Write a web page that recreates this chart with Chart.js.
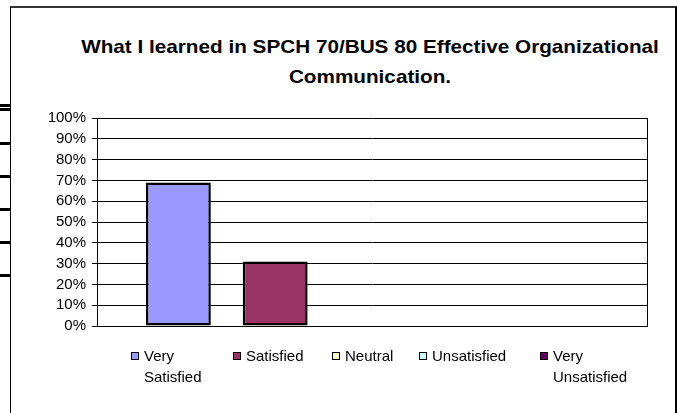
<!DOCTYPE html>
<html>
<head>
<meta charset="utf-8">
<script src="https://cdn.jsdelivr.net/npm/chart.js@4.4.1/dist/chart.umd.min.js"></script>
<style>
  html, body { margin: 0; padding: 0; background: #fff; }
  #wrap { position: relative; width: 677px; height: 413px; overflow: hidden; font-family: "Liberation Sans", Arial, sans-serif; color: #000; }
  #frame { position: absolute; left: 10px; top: 6px; width: 667px; height: 440px; box-sizing: border-box;
           border-left: 1px solid #000; border-top: 2px solid #333; border-right: 2px solid #000; }
  .stub { position: absolute; left: 0; width: 10px; height: 3px; background: #000; }
  #title { position: absolute; left: 70px; width: 600px; top: 32px; text-align: center;
           font-weight: bold; font-size: 19px; line-height: 30px; transform: scaleX(1.09); }
  #chart { position: absolute; left: 0; top: 0; }
  .item { position: absolute; top: 345px; display: flex; align-items: flex-start; font-size: 15px; line-height: 21px; }
  .box { width: 6px; height: 6px; border: 1px solid #000; margin-top: 7px; margin-right: 5px; flex: none; }
</style>
</head>
<body>
<div id="wrap">
  <div id="frame"></div>
  <div class="stub" style="top:104px"></div>
  <div class="stub" style="top:108px"></div>
  <div class="stub" style="top:142px"></div>
  <div class="stub" style="top:175px"></div>
  <div class="stub" style="top:208px"></div>
  <div class="stub" style="top:241px"></div>
  <div class="stub" style="top:274px"></div>
  <div id="title">What I learned in SPCH 70/BUS 80 Effective Organizational<br>Communication.</div>
  <canvas id="chart" width="677" height="413"></canvas>
  <div id="legend"></div>
</div>
<script>
// ---- Data ----
const categories = ["Very Satisfied", "Satisfied", "Neutral", "Unsatisfied", "Very Unsatisfied"];
const legendLines = [["Very", "Satisfied"], ["Satisfied"], ["Neutral"], ["Unsatisfied"], ["Very", "Unsatisfied"]];
const values = [69, 31, 0, 0, 0];
const colors = ["#9999FF", "#993366", "#FFFFCC", "#CCFFFF", "#660066"];
const legendX = [131, 233, 332, 419, 540];

// ---- Chart ----
const ctx = document.getElementById("chart").getContext("2d");

const datasets = categories.map((name, i) => ({
  label: name,
  data: [values[i]],
  backgroundColor: colors[i],
  borderColor: "#000",
  borderWidth: 2.5,
  borderSkipped: false,
  categoryPercentage: 0.88,
  barPercentage: 0.67
}));

new Chart(ctx, {
  type: "bar",
  data: { labels: [""], datasets: datasets },
  options: {
    responsive: false,
    animation: false,
    layout: { padding: { top: 118, right: 30, bottom: 87, left: 0 } },
    plugins: {
      legend: { display: false },
      title: { display: false },
      tooltip: { enabled: false }
    },
    scales: {
      x: {
        ticks: { display: false },
        grid: { display: true, color: "#000", drawTicks: false, offset: true },
        border: { display: true, color: "#000" },
        afterFit: (s) => { s.height = 0; }
      },
      y: {
        min: 0,
        max: 100,
        ticks: {
          stepSize: 10,
          autoSkip: false,
          color: "#000",
          padding: 6,
          font: { family: "Liberation Sans, Arial, sans-serif", size: 15 },
          callback: (v) => v + "%"
        },
        grid: { color: "#000", tickLength: 5, lineWidth: 1 },
        border: { color: "#000" },
        afterFit: (s) => { s.width = 97; }
      }
    }
  }
});

// ---- Legend (two-line labels, so built as HTML) ----
const legendEl = document.getElementById("legend");
categories.forEach((name, i) => {
  const item = document.createElement("div");
  item.className = "item";
  item.style.left = legendX[i] + "px";
  const box = document.createElement("div");
  box.className = "box";
  box.style.background = colors[i];
  const txt = document.createElement("div");
  txt.innerHTML = legendLines[i].join("<br>");
  item.appendChild(box);
  item.appendChild(txt);
  legendEl.appendChild(item);
});
</script>
</body>
</html>
